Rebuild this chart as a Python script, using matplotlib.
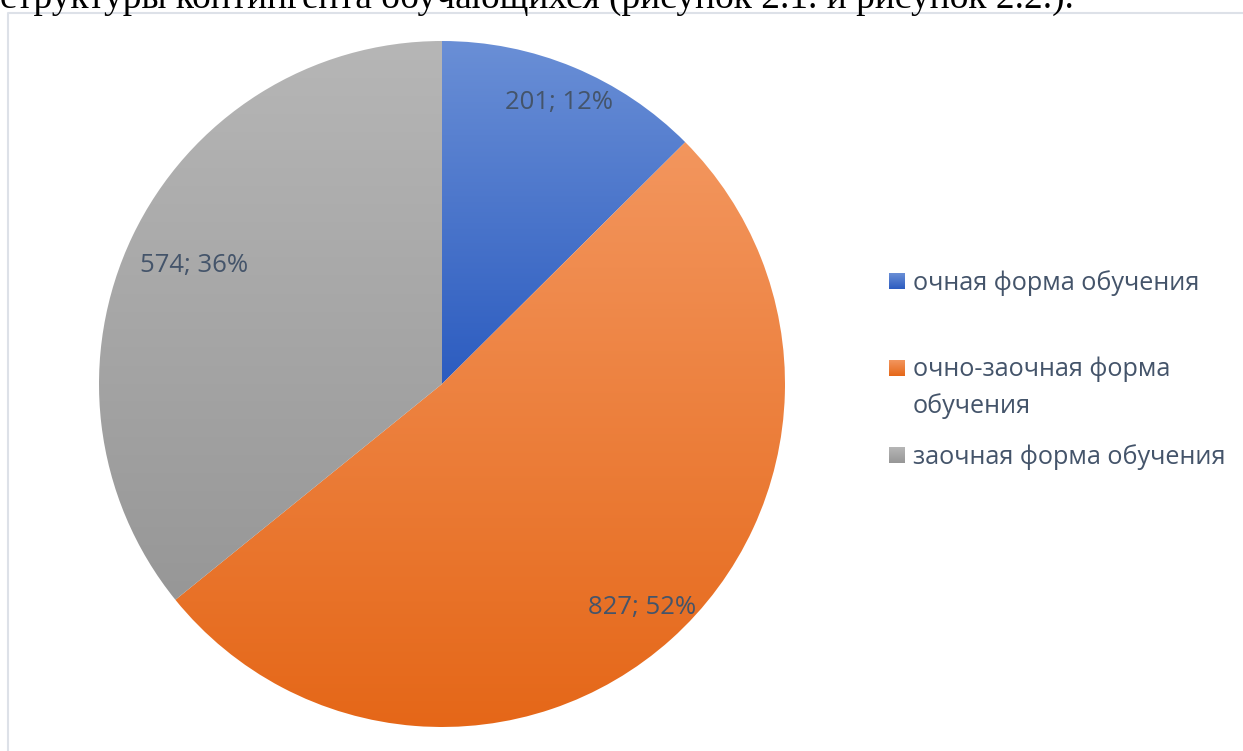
import numpy as np
import matplotlib
matplotlib.use("Agg")
import matplotlib.pyplot as plt
from matplotlib.colors import LinearSegmentedColormap

# данные диаграммы
categories = ["очная форма обучения", "очно-заочная форма\nобучения", "заочная форма обучения"]
values = [201, 827, 574]
pct_labels = ["12%", "52%", "36%"]
top_colors = ["#6A8FD6", "#F3965E", "#B6B6B6"]
bottom_colors = ["#2C5CC0", "#E56718", "#979797"]
header_text = "структуры контингента обучающихся (рисунок 2.1. и рисунок 2.2.)."

W, H = 1243, 751
fig = plt.figure(figsize=(W / 100, H / 100), dpi=100)
ax = fig.add_axes([0, 0, 1, 1])

# рамка области диаграммы
ax.plot([8.5, 8.5, W], [0, H - 12.5, H - 12.5], color="#DDE1E8", lw=1.5, zorder=1)

# обрезанный текст документа сверху
ax.text(0, H - 8, header_text, fontsize=26.9, family="Liberation Serif",
        color="black", va="baseline", ha="left", zorder=5)

center = (442, H - 384)
radius = 343
wedges, _ = ax.pie(values, center=center, radius=radius, startangle=90,
                   counterclock=False, frame=True,
                   wedgeprops=dict(linewidth=0, alpha=0))

# градиентная заливка секторов
grad = np.linspace(0, 1, 256).reshape(-1, 1)
for w, c_top, c_bot in zip(wedges, top_colors, bottom_colors):
    ext = w.get_path().get_extents()
    cmap = LinearSegmentedColormap.from_list("g", [c_top, c_bot])
    im = ax.imshow(grad, cmap=cmap, aspect="auto", origin="upper",
                   extent=[ext.x0, ext.x1, ext.y0, ext.y1], zorder=2)
    im.set_clip_path(w)

# подписи данных
label_dist = [0.89, 0.875, 0.80]
for w, v, p, d in zip(wedges, values, pct_labels, label_dist):
    ang = np.deg2rad((w.theta1 + w.theta2) / 2)
    x = center[0] + d * radius * np.cos(ang)
    y = center[1] + d * radius * np.sin(ang)
    ax.text(x, y, f"{v}; {p}", fontsize=18.5, family="Open Sans", color="#44546A",
            ha="center", va="center", zorder=4)

# легенда
leg_y = [281, 368, 455]
for name, y, c_top, c_bot in zip(categories, leg_y, top_colors, bottom_colors):
    sq = LinearSegmentedColormap.from_list("s", [c_top, c_bot])
    ax.imshow(grad, cmap=sq, aspect="auto", origin="upper",
              extent=[889, 905, H - y - 8, H - y + 8], zorder=3)
    ax.text(913, H - y + 11, name, fontsize=18.2, family="Open Sans", color="#44546A",
            ha="left", va="top", linespacing=1.55, zorder=4)

ax.set_xlim(0, W)
ax.set_ylim(0, H)
ax.set_aspect("equal")
ax.axis("off")
fig.savefig("out.png", dpi=100, facecolor="white")
